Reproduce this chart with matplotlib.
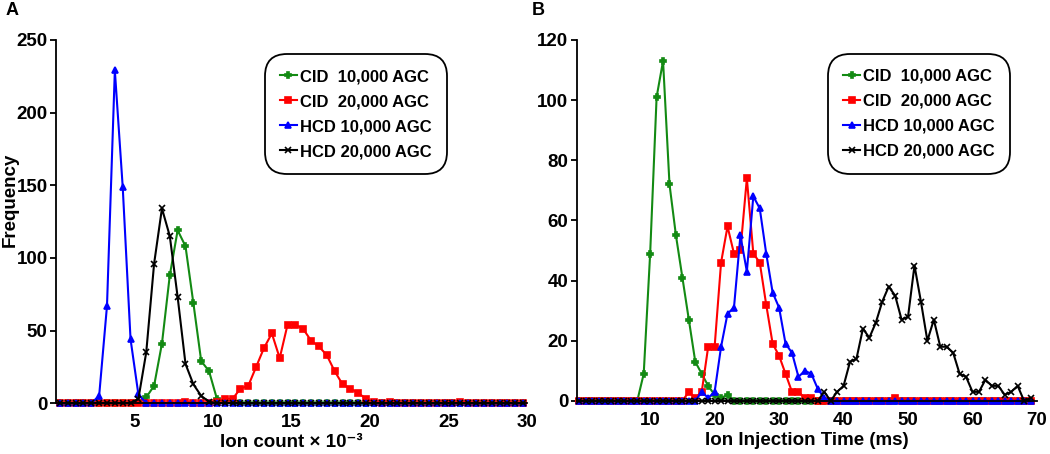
import numpy as np
import matplotlib
matplotlib.use("Agg")
import matplotlib.pyplot as plt

plt.rcParams['font.family'] = ['Liberation Sans', 'DejaVu Sans']
plt.rcParams['font.weight'] = 'bold'
plt.rcParams['axes.labelweight'] = 'bold'

# panel A: ion count bins (x 10^-3), bin centres every 0.5
ion_count = np.arange(0.25, 30.0, 0.5)
cid_10k_a = [0, 0, 0, 0, 0, 0, 0, 0, 0, 0,
             1, 4, 12, 41, 88, 119, 108, 69, 29, 22,
             3, 1, 1, 0, 0, 0, 0, 0, 0, 0,
             0, 0, 0, 0, 0, 0, 0, 0, 0, 0,
             0, 0, 0, 0, 0, 0, 0, 0, 0, 0,
             0, 0, 0, 0, 0, 0, 0, 0, 0, 0]
cid_20k_a = [0, 0, 0, 0, 0, 0, 0, 0, 0, 0,
             0, 0, 0, 0, 0, 0, 1, 0, 0, 0,
             1, 3, 3, 10, 12, 25, 38, 48, 31, 54,
             54, 51, 43, 39, 33, 22, 13, 10, 7, 3,
             1, 0, 1, 0, 0, 0, 0, 0, 0, 0,
             0, 1, 0, 0, 0, 0, 0, 0, 0, 0]
hcd_10k_a = [0, 0, 0, 0, 0, 5, 67, 229, 149, 44,
             6, 0, 0, 0, 0, 0, 0, 0, 0, 0,
             0, 0, 0, 0, 0, 0, 0, 0, 0, 0,
             0, 0, 0, 0, 0, 0, 0, 0, 0, 0,
             0, 0, 0, 0, 0, 0, 0, 0, 0, 0,
             0, 0, 0, 0, 0, 0, 0, 0, 0, 0]
hcd_20k_a = [0, 0, 0, 0, 0, 0, 0, 0, 0, 0,
             3, 35, 96, 134, 115, 73, 27, 13, 5, 1,
             0, 0, 0, 0, 0, 0, 0, 0, 0, 0,
             0, 0, 0, 0, 0, 0, 0, 0, 0, 0,
             0, 0, 0, 0, 0, 0, 0, 0, 0, 0,
             0, 0, 0, 0, 0, 0, 0, 0, 0, 0]

# panel B: ion injection time (ms), 1 ms bins from -1 to 69
inj_time = np.arange(-1, 70)
cid_10k_b = [0, 0, 0, 0, 0, 0, 0, 0, 0, 0,
             9, 49, 101, 113, 72, 55, 41, 27, 13, 9,
             5, 2, 1, 2, 0, 0, 0, 0, 0, 0,
             0, 0, 0, 0, 0, 0, 0, 0, 0, 0,
             0, 0, 0, 0, 0, 0, 0, 0, 0, 0,
             0, 0, 0, 0, 0, 0, 0, 0, 0, 0,
             0, 0, 0, 0, 0, 0, 0, 0, 0, 0, 0]
cid_20k_b = [0, 0, 0, 0, 0, 0, 0, 0, 0, 0,
             0, 0, 0, 0, 0, 0, 0, 3, 1, 3,
             18, 18, 46, 58, 49, 50, 74, 49, 46, 32,
             19, 15, 9, 3, 3, 1, 1, 0, 0, 0,
             0, 0, 0, 0, 0, 0, 0, 0, 0, 1,
             0, 0, 0, 0, 0, 0, 0, 0, 0, 0,
             0, 0, 0, 0, 0, 0, 0, 0, 0, 0, 0]
hcd_10k_b = [0, 0, 0, 0, 0, 0, 0, 0, 0, 0,
             0, 0, 0, 0, 0, 0, 0, 0, 0, 3,
             1, 3, 18, 29, 31, 55, 43, 68, 64, 49,
             36, 31, 19, 16, 8, 10, 9, 4, 1, 0,
             0, 0, 0, 0, 0, 0, 0, 0, 0, 0,
             0, 0, 0, 0, 0, 0, 0, 0, 0, 0,
             0, 0, 0, 0, 0, 0, 0, 0, 0, 0, 0]
hcd_20k_b = [0, 0, 0, 0, 0, 0, 0, 0, 0, 0,
             0, 0, 0, 0, 0, 0, 0, 0, 0, 0,
             0, 0, 0, 0, 0, 0, 0, 0, 0, 0,
             0, 0, 0, 0, 0, 0, 0, 0, 3, 0,
             3, 5, 13, 14, 24, 21, 26, 33, 38, 35,
             27, 28, 45, 33, 20, 27, 18, 18, 16, 9,
             8, 3, 3, 7, 5, 5, 2, 3, 5, 0, 1]

labels = ["CID  10,000 AGC", "CID  20,000 AGC", "HCD 10,000 AGC", "HCD 20,000 AGC"]
colors = ["#138a13", "#ff0000", "#0000ff", "#000000"]
markers = ["P", "s", "^", "x"]
msizes = [4, 4, 4.5, 4]


def draw_panel(ax, x, series, leg_anchor):
    for ys, lab, c, m, ms in zip(series, labels, colors, markers, msizes):
        ax.plot(x, ys, color=c, marker=m, ms=ms, mew=1.2, lw=1.5,
                label=lab, clip_on=False)
    for s in ["top", "right"]:
        ax.spines[s].set_visible(False)
    for s in ["left", "bottom"]:
        ax.spines[s].set_linewidth(1.3)
    ax.tick_params(axis="y", length=4, width=1.3, labelsize=13.5, pad=2)
    ax.tick_params(axis="x", length=0, labelsize=13.5, pad=8)
    for t in ax.get_xticklabels() + ax.get_yticklabels():
        t.set_fontweight("bold")
    leg = ax.legend(loc="upper right", bbox_to_anchor=leg_anchor, frameon=True,
                    fancybox=True, handlelength=1.0, handletextpad=0.2,
                    labelspacing=0.6, borderpad=0.7,
                    prop={"size": 12, "weight": "bold"},
                    edgecolor="black", framealpha=1)
    leg.get_frame().set_linewidth(1.3)
    leg.get_frame().set_boxstyle("round,pad=0.2,rounding_size=1.3")


fig = plt.figure(figsize=(10.5, 4.54), dpi=100)
ax_a = fig.add_axes([0.0533, 0.112, 0.4486, 0.800])
ax_b = fig.add_axes([0.5492, 0.117, 0.4384, 0.795])

ax_a.set_xlim(0, 30)
ax_a.set_ylim(0, 250)
ax_a.set_xticks([5, 10, 15, 20, 25, 30])
ax_a.set_yticks([0, 50, 100, 150, 200, 250])
draw_panel(ax_a, ion_count, [cid_10k_a, cid_20k_a, hcd_10k_a, hcd_20k_a], (0.84, 0.975))
ax_a.set_xlabel("Ion count × 10⁻³", fontsize=13.5, fontweight="bold", labelpad=2)

ax_b.set_xlim(-1.4, 70)
ax_b.set_ylim(0, 120)
ax_b.set_xticks([10, 20, 30, 40, 50, 60, 70])
ax_b.set_yticks([0, 20, 40, 60, 80, 100, 120])
draw_panel(ax_b, inj_time, [cid_10k_b, cid_20k_b, hcd_10k_b, hcd_20k_b], (0.952, 0.975))
ax_b.set_xlabel("Ion Injection Time (ms)", fontsize=13.5, fontweight="bold", labelpad=2)

fig.text(0.002, 0.559, "Frequency", rotation=90, fontsize=13.5, fontweight="bold",
         va="center", ha="left")
fig.text(0.005, 0.995, "A", fontsize=13, fontweight="bold", va="top", ha="left")
fig.text(0.506, 0.995, "B", fontsize=13, fontweight="bold", va="top", ha="left")

fig.savefig("out.png", dpi=100)
